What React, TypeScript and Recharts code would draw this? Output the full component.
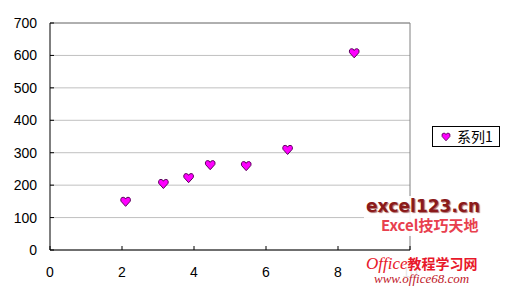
import { ScatterChart, Scatter, XAxis, YAxis, CartesianGrid, Legend, ReferenceLine } from 'recharts';

// values
const xValues = [2.1, 3.15, 3.85, 4.45, 5.45, 6.6, 8.45];
const yValues = [150, 205, 223, 263, 260, 310, 608];
const xTicks = [0, 2, 4, 6, 8, 10];
const yTicks = [0, 100, 200, 300, 400, 500, 600, 700];
const seriesName = '系列1';

const data = xValues.map((x, i) => ({ x, y: yValues[i] }));

const HEART = 'M0,4.5 L-4.6,-0.6 Q-5.6,-4.4 -2.4,-4.6 Q-0.6,-4.6 0,-2.8 Q0.6,-4.6 2.4,-4.6 Q5.6,-4.4 4.6,-0.6 Z';

const HeartDot = (props: any) => {
  const { cx, cy } = props;
  if (cx == null || cy == null) return null;
  return <path d={HEART} transform={`translate(${cx},${cy + 0.5})`} fill="#ff00ff" stroke="#5a005a" strokeWidth={1} />;
};

const LegendBox = () => (
  <div
    style={{
      boxSizing: 'border-box',
      width: 68,
      height: 21,
      border: '1px solid #000',
      background: '#fff',
      display: 'flex',
      alignItems: 'center',
      fontFamily: '"Noto Sans CJK SC", sans-serif',
      fontSize: 14,
      color: '#000',
    }}
  >
    <svg width={24} height={19}>
      <path d={HEART} transform="translate(13,10) scale(0.85)" fill="#ff00ff" stroke="#5a005a" strokeWidth={1} />
    </svg>
    <span style={{ lineHeight: '19px' }}>{seriesName}</span>
  </div>
);

const tickStyle = { fontFamily: '"Liberation Sans", Arial, sans-serif', fontSize: 14, fill: '#000' };

const App = () => {
  return (
    <div style={{ position: 'absolute', left: 0, top: 0, width: 505, height: 293, background: '#fff', overflow: 'hidden' }}>
      <ScatterChart width={505} height={293} margin={{ top: 23, right: 95, bottom: 0, left: 0 }}>
        <CartesianGrid horizontal vertical={false} stroke="#c0c0c0" />
        <XAxis
          type="number"
          dataKey="x"
          domain={[0, 10]}
          ticks={xTicks}
          height={43}
          tickSize={-4}
          tickMargin={21}
          tick={tickStyle}
          axisLine={{ stroke: '#000' }}
          tickLine={{ stroke: '#000' }}
        />
        <YAxis
          type="number"
          dataKey="y"
          domain={[0, 700]}
          ticks={yTicks}
          width={50}
          tickSize={-4}
          tickMargin={17}
          tick={tickStyle}
          axisLine={{ stroke: '#000' }}
          tickLine={{ stroke: '#000' }}
        />
        <ReferenceLine y={700} stroke="#808080" />
        <ReferenceLine x={10} stroke="#808080" />
        <Legend
          layout="horizontal"
          verticalAlign="middle"
          align="center"
          content={<LegendBox />}
          wrapperStyle={{ position: 'absolute', left: 432, top: 126, width: 68, height: 21 }}
        />
        <Scatter name={seriesName} data={data} shape={<HeartDot />} isAnimationActive={false} />
      </ScatterChart>

      {/* watermarks */}
      <div style={{ position: 'absolute', left: 364, top: 196, width: 138, height: 40, background: 'rgba(255,255,255,0.92)' }} />
      <div style={{ position: 'absolute', left: 366, top: 196, fontFamily: '"DejaVu Sans", sans-serif', fontWeight: 'bold', fontSize: 17, color: '#8b1a1a', textShadow: '1px 1px 1px #b07070', whiteSpace: 'nowrap' }}>
        excel123.cn
      </div>
      <div style={{ position: 'absolute', left: 381, top: 215, fontFamily: '"Noto Sans CJK SC", sans-serif', fontWeight: 'bold', fontSize: 15, color: '#e8404e', whiteSpace: 'nowrap', lineHeight: '20px' }}>
        Excel技巧天地
      </div>
      <div style={{ position: 'absolute', left: 364, top: 256, width: 134, height: 31, background: 'rgba(255,255,255,0.9)' }} />
      <div style={{ position: 'absolute', left: 366, top: 254, color: '#e8182a', whiteSpace: 'nowrap', lineHeight: '18px' }}>
        <span style={{ fontFamily: '"Liberation Serif", serif', fontStyle: 'italic', fontSize: 17 }}>Office</span>
        <span style={{ fontFamily: '"Noto Sans CJK SC", sans-serif', fontWeight: 'bold', fontSize: 14 }}>教程学习网</span>
      </div>
      <div style={{ position: 'absolute', left: 374, top: 272, fontFamily: '"Liberation Serif", serif', fontStyle: 'italic', fontSize: 13, color: '#c0202a', whiteSpace: 'nowrap', lineHeight: '14px' }}>
        www.office68.com
      </div>
    </div>
  );
};

export default App;
